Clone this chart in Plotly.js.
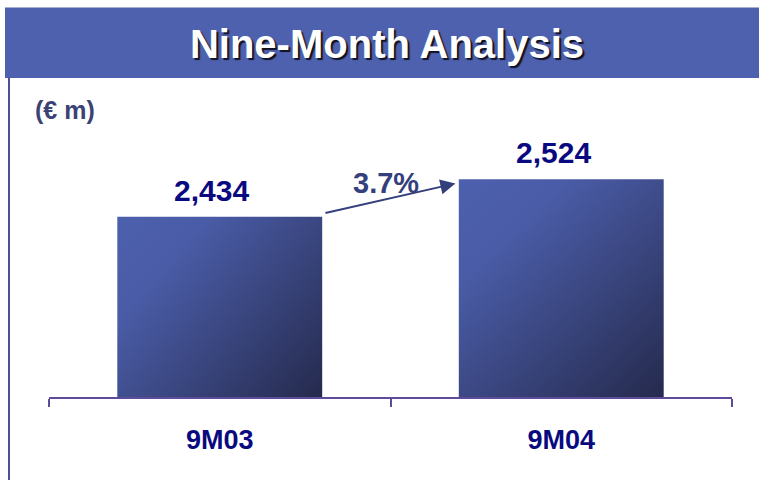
<!DOCTYPE html>
<html>
<head>
<meta charset="utf-8">
<script src="https://cdn.plot.ly/plotly-3.0.1.min.js"></script>
<style>
  html, body { margin: 0; padding: 0; background: #ffffff; }
  #chart { width: 759px; height: 480px; }
</style>
</head>
<body>
<div id="chart"></div>
<script>
// ---- data ----
const categories = ["9M03", "9M04"];
const values = [2434, 2524];
const valueLabels = ["2,434", "2,524"];
const chartTitle = "Nine-Month Analysis";
const unitLabel = "(€ m)";

const growthPct = ((values[1] / values[0] - 1) * 100).toFixed(1) + "%";

const FONT = "'Liberation Sans', Arial, sans-serif";
const NAVY = "#0a0a80";
const AXIS_COL = "#5e4b9a";
const ARROW_COL = "#34407c";

// plot area in pixels: left 49, right 732, top 78, bottom 397
const L = 49, R = 27, T = 78, B = 83;
const W = 759 - L - R, H = 480 - T - B;
const px2paperX = p => (p - L) / W;
const px2paperY = p => (480 - B - p) / H;

const trace = {
  type: "bar",
  x: categories,
  y: values,
  width: 0.6,
  marker: { color: "#3f4f92", line: { width: 0 } },
  hoverinfo: "skip",
  showlegend: false
};

const annotations = [];
// value labels
categories.forEach((c, i) => {
  annotations.push({
    x: c, y: values[i], xref: "x", yref: "y",
    text: valueLabels[i], showarrow: false,
    xanchor: "center", yanchor: "bottom", yshift: 8, xshift: -8,
    font: { family: FONT, size: 30, color: NAVY, weight: "bold" }
  });
});
// growth arrow (from top-right of first bar to top-left of second bar)
annotations.push({
  x: 0.69, y: values[1] - 10, xref: "x", yref: "y",
  ax: 0.305, ay: values[0] + 8, axref: "x", ayref: "y",
  text: "", showarrow: true, arrowhead: 2, arrowsize: 1.5, arrowwidth: 2,
  arrowcolor: ARROW_COL, standoff: 0, startstandoff: 0
});
annotations.push({
  x: 0.487, y: (values[0] + values[1]) / 2 + 36, xref: "x", yref: "y",
  text: growthPct, showarrow: false, xanchor: "center", yanchor: "middle",
  font: { family: FONT, size: 29, color: ARROW_COL, weight: "bold" }
});
// unit label
annotations.push({
  x: px2paperX(33), y: px2paperY(110), xref: "paper", yref: "paper",
  text: unitLabel, showarrow: false, xanchor: "left", yanchor: "middle",
  font: { family: FONT, size: 25, color: "#3b4275", weight: "bold" }
});

const shapes = [
  // title bar
  { type: "rect", xref: "paper", yref: "paper",
    x0: px2paperX(5), x1: px2paperX(762), y0: px2paperY(78), y1: px2paperY(7.5),
    fillcolor: "#4e61ae", line: { width: 0 }, layer: "below" },
  // left border line
  { type: "line", xref: "paper", yref: "paper",
    x0: px2paperX(9), x1: px2paperX(9), y0: px2paperY(78), y1: px2paperY(482),
    line: { color: "#4f4b9e", width: 2 } }
];

const layout = {
  width: 759, height: 480,
  margin: { l: L, r: R, t: T, b: B, pad: 0 },
  paper_bgcolor: "#ffffff",
  plot_bgcolor: "rgba(0,0,0,0)",
  title: {
    text: chartTitle,
    x: 387 / 759, xref: "container", xanchor: "center",
    y: 1 - 44 / 480, yref: "container", yanchor: "middle",
    font: { family: FONT, size: 40, color: "#ffffff", weight: "bold",
            shadow: "2px 2px 1px #111122" }
  },
  xaxis: {
    type: "category",
    range: [-0.5, 1.5],
    showline: true, linecolor: AXIS_COL, linewidth: 2,
    ticks: "outside", ticklen: 8, tickwidth: 2, tickcolor: AXIS_COL,
    tickson: "boundaries",
    ticklabelstandoff: 18,
    tickfont: { family: FONT, size: 27, color: NAVY, weight: "bold" },
    showgrid: false, zeroline: false, fixedrange: true
  },
  yaxis: {
    range: [2000, 2768],
    visible: false, showgrid: false, zeroline: false, fixedrange: true
  },
  bargap: 0.4,
  annotations: annotations,
  shapes: shapes,
  showlegend: false
};

function applyGradient(gd) {
  const svg = gd.querySelector(".main-svg");
  if (!svg) return;
  let defs = svg.querySelector("defs");
  if (!defs) { defs = document.createElementNS("http://www.w3.org/2000/svg", "defs"); svg.prepend(defs); }
  const paths = gd.querySelectorAll(".barlayer .trace.bars .point path");
  const plotH = gd._fullLayout._size.h;
  paths.forEach((p, i) => {
    const bb = p.getBBox();
    const top = bb.y;
    const bottom = Math.min(bb.y + bb.height, plotH);
    const id = "barGrad" + i;
    let g = defs.querySelector("#" + id);
    if (g) g.remove();
    g = document.createElementNS("http://www.w3.org/2000/svg", "linearGradient");
    g.setAttribute("id", id);
    g.setAttribute("gradientUnits", "userSpaceOnUse");
    g.setAttribute("x1", bb.x);
    g.setAttribute("y1", top);
    g.setAttribute("x2", bb.x + bb.width);
    g.setAttribute("y2", bottom);
    [["0", "#4d60ad"], ["0.25", "#4a5ca7"], ["1", "#252a4d"]].forEach(([o, c]) => {
      const s = document.createElementNS("http://www.w3.org/2000/svg", "stop");
      s.setAttribute("offset", o);
      s.setAttribute("stop-color", c);
      g.appendChild(s);
    });
    defs.appendChild(g);
    p.style.fill = "url(#" + id + ")";
    p.style.fillOpacity = "1";
  });
}

Plotly.newPlot("chart", [trace], layout, { staticPlot: true, displayModeBar: false })
  .then(gd => { applyGradient(gd); gd.on && gd.on("plotly_afterplot", () => applyGradient(gd)); });
</script>
</body>
</html>
